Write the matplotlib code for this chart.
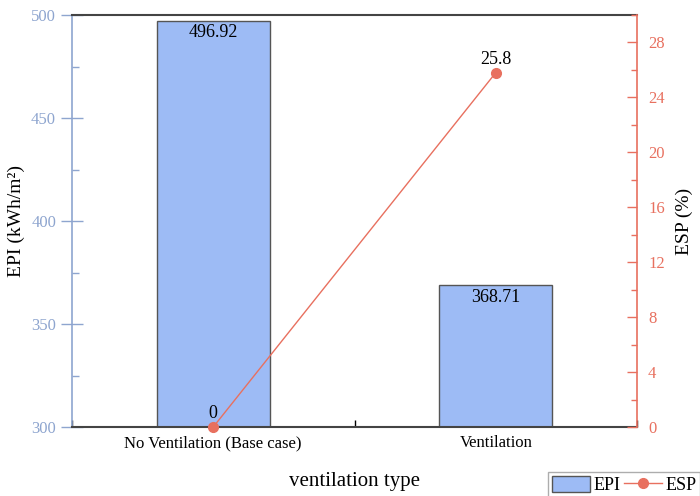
import numpy as np
import matplotlib
matplotlib.use('Agg')
import matplotlib.pyplot as plt
from matplotlib.ticker import MultipleLocator

categories = ['No Ventilation (Base case)', 'Ventilation']
epi = [496.92, 368.71]
esp = [0, 25.8]

bar_color = '#9dbbf5'
line_color = '#e8705f'
left_color = '#8ea5cf'

plt.rcParams['font.family'] = ['Liberation Serif', 'DejaVu Serif']
plt.rcParams['font.size'] = 12

fig = plt.figure(figsize=(7, 4.96), dpi=100)
ax = fig.add_axes([72/700, 1-427/496, (637-72)/700, (427-15)/496])
x = np.arange(len(categories))

ax.bar(x, epi, width=0.4, color=bar_color, edgecolor='#555555', linewidth=1, label='EPI', zorder=2)
for xi, v in zip(x, epi):
    ax.text(xi, v - 1.5, f'{v:g}', ha='center', va='top', fontsize=13)
ax.set_ylim(300, 500)
ax.set_xlim(-0.5, 1.5)
ax.yaxis.set_major_locator(MultipleLocator(50))
ax.yaxis.set_minor_locator(MultipleLocator(25))
ax.set_xticks(x)
ax.set_xticklabels(categories)
ax.xaxis.set_minor_locator(MultipleLocator(0.5))
ax.tick_params(axis='x', which='both', direction='in', top=False, length=5, width=1, labelsize=12, pad=6)
ax.tick_params(axis='y', which='major', direction='inout', length=16, width=1, colors=left_color, labelsize=12)
ax.tick_params(axis='y', which='minor', direction='in', length=5, width=1, colors=left_color)
ax.spines['left'].set_color(left_color)
ax.spines['left'].set_linewidth(1.2)
for s in ['top', 'bottom']:
    ax.spines[s].set_color('#444444')
    ax.spines[s].set_linewidth(1.5)
ax.spines['right'].set_visible(False)
ax.set_ylabel('EPI (kWh/m²)', fontsize=14, labelpad=4)
ax.set_xlabel('ventilation type', fontsize=15, labelpad=15)

ax2 = ax.twinx()
ax2.plot(x, esp, color=line_color, linewidth=1, marker='o', markersize=7, label='ESP', clip_on=False, zorder=3)
for xi, v in zip(x, esp):
    ax2.text(xi, v + 0.35, f'{v:g}', ha='center', va='bottom', fontsize=13)
ax2.set_ylim(0, 30)
ax2.yaxis.set_major_locator(MultipleLocator(4))
ax2.yaxis.set_minor_locator(MultipleLocator(2))
ax2.tick_params(axis='y', which='major', direction='in', length=7, width=1, colors=line_color, labelsize=12, pad=8)
ax2.tick_params(axis='y', which='minor', direction='in', length=4, width=1, colors=line_color)
ax2.spines['right'].set_color(line_color)
ax2.spines['right'].set_linewidth(1.2)
for s in ['top', 'bottom', 'left']:
    ax2.spines[s].set_visible(False)
ax2.set_ylabel('ESP (%)', fontsize=14, labelpad=8)

h1, l1 = ax.get_legend_handles_labels()
h2, l2 = ax2.get_legend_handles_labels()
fig.legend(h1 + h2, l1 + l2, loc='upper left', bbox_to_anchor=(548/700, 1-472/496),
           ncol=2, fontsize=13, frameon=True, edgecolor='#999999', fancybox=False,
           handlelength=2.1, handleheight=1.0, handletextpad=0.2, columnspacing=0.2,
           borderpad=0.2, borderaxespad=0)

fig.savefig('out.png', dpi=100)
